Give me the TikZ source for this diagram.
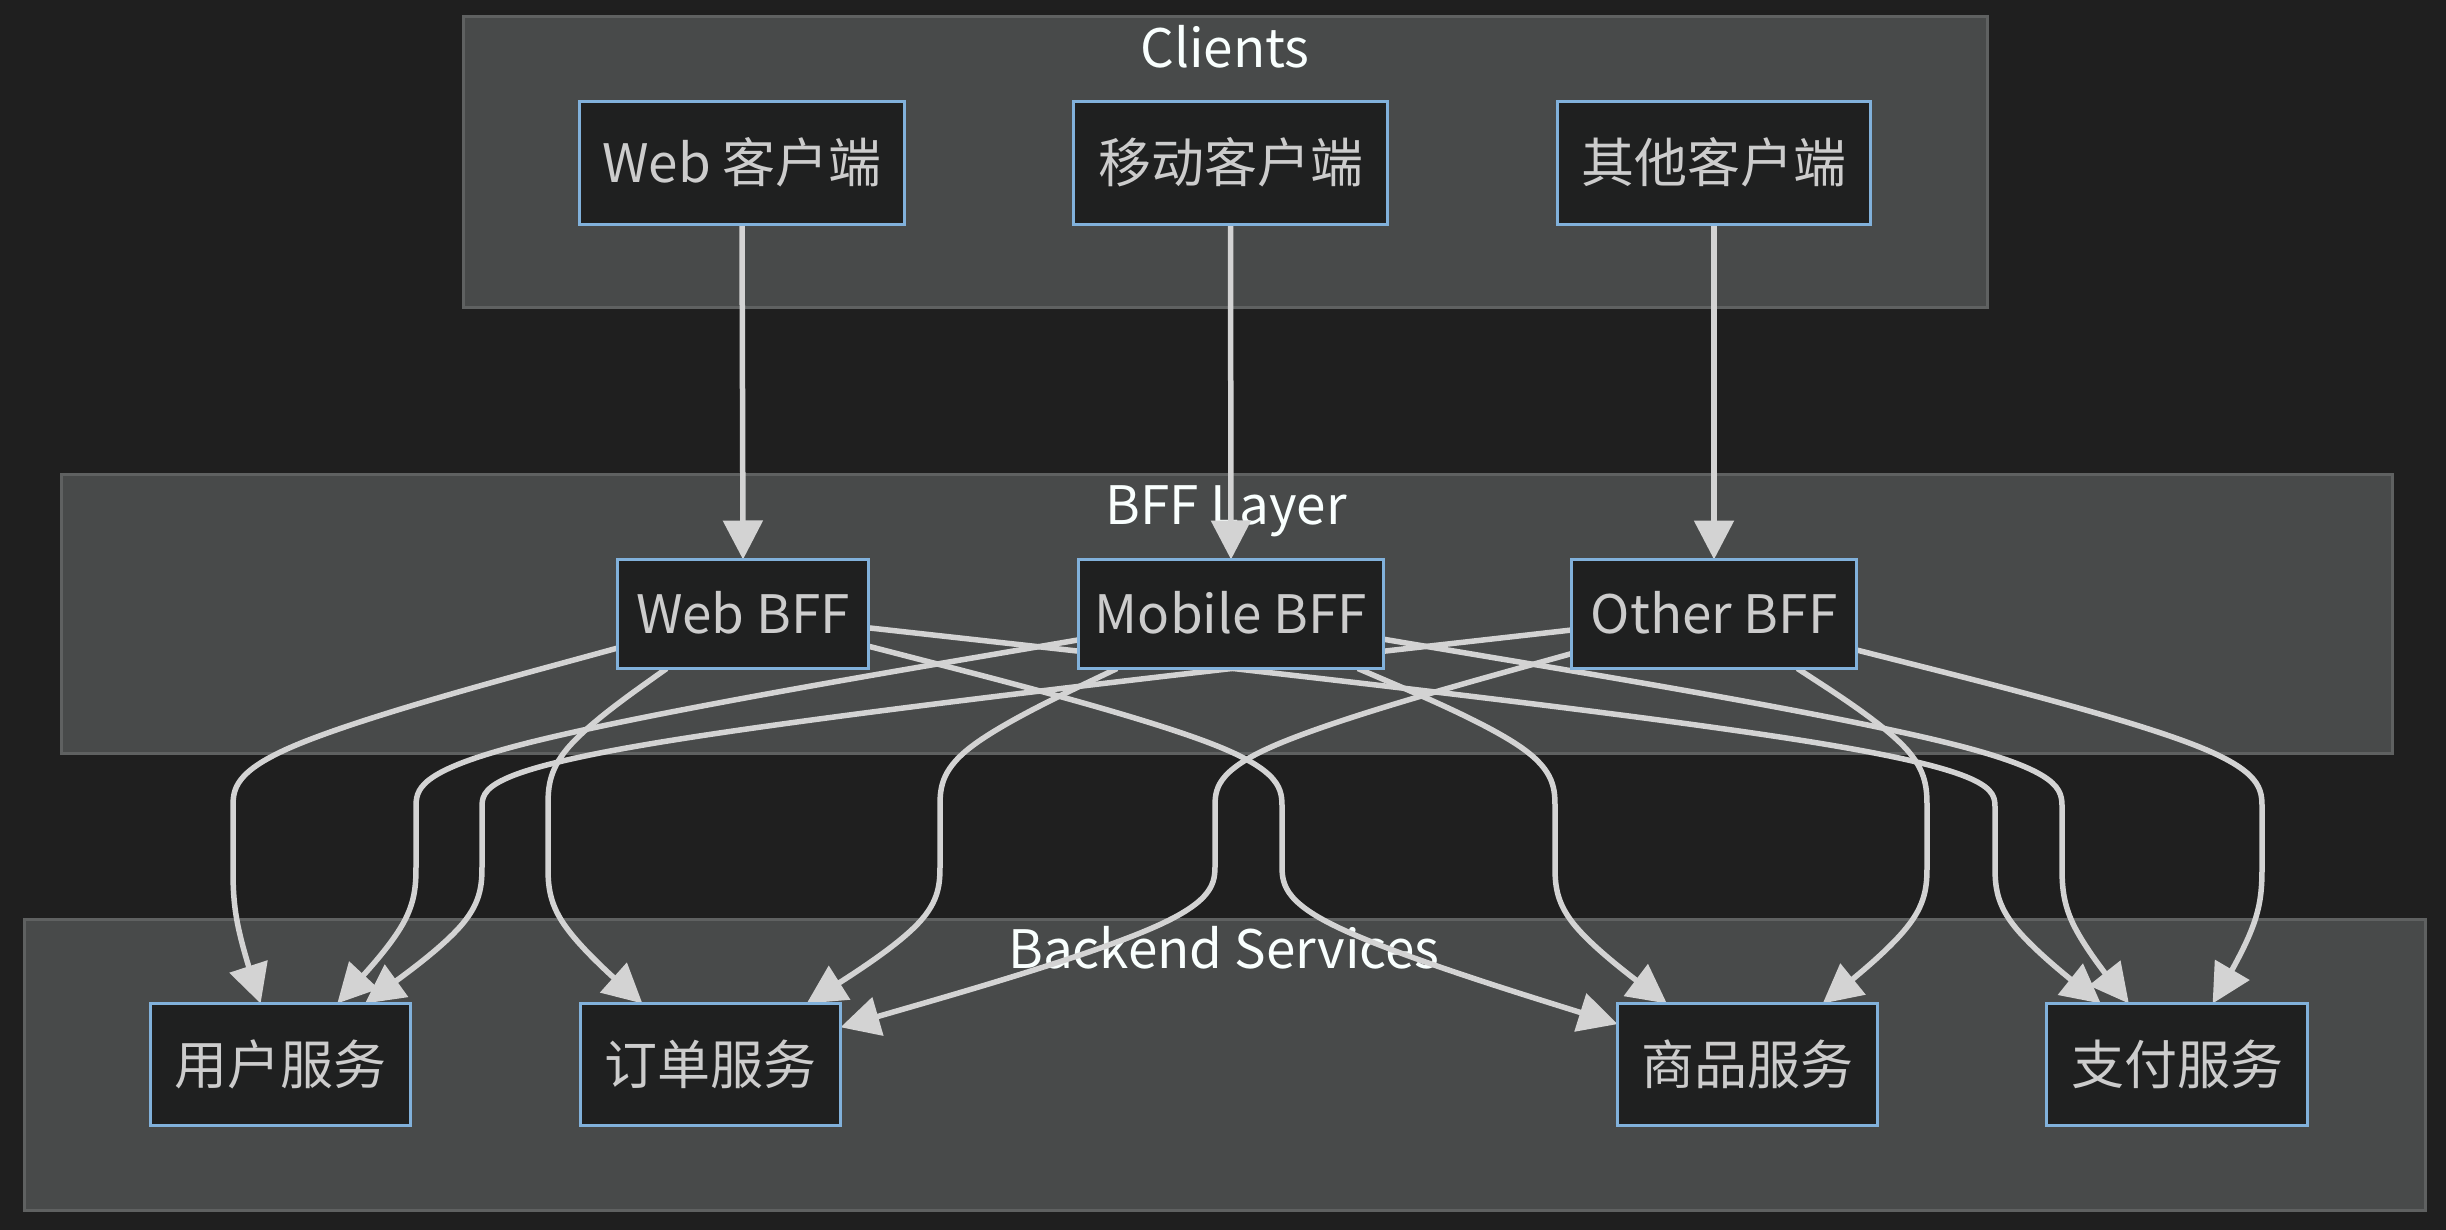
\documentclass[tikz,border=0pt]{standalone}
\usepackage{fontspec}
\setmainfont{Noto Sans CJK SC}
\usetikzlibrary{arrows.meta,calc}
\definecolor{bgc}{HTML}{1F1F1F}
\definecolor{clfill}{HTML}{484A4A}
\definecolor{clline}{HTML}{5F6161}
\definecolor{nfill}{HTML}{1F2020}
\definecolor{nline}{HTML}{81B1DB}
\definecolor{ntext}{HTML}{CCCCCC}
\definecolor{ttext}{HTML}{F9FFFE}
\definecolor{ecol}{HTML}{D3D3D3}
\pgfdeclarelayer{back}
\pgfdeclarelayer{edgelayer}
\pgfsetlayers{back,edgelayer,main}
% basis-spline edge: source, target, x of the vertical run
\newcommand\bfedge[3]{%
  \path (#1) -- (#3,753) coordinate[pos=0] (S);
  \path (#2) -- (#3,919) coordinate[pos=0] (T);
  \draw[edge] (S) -- ($(S)!1/6!(#3,753)$)
    .. controls ($(S)!1/3!(#3,753)$) and ($(S)!2/3!(#3,753)$) .. ($1/6*(S)+4/6*(#3,753)+1/6*(#3,808)$)
    .. controls (#3,771.3) and (#3,789.7) .. (#3,808.2)
    .. controls (#3,826.7) and (#3,845.3) .. (#3,863.8)
    .. controls (#3,882.3) and (#3,900.7) .. ($1/6*(#3,864)+4/6*(#3,919)+1/6*(T)$)
    .. controls ($(#3,919)!1/3!(T)$) and ($(#3,919)!2/3!(T)$) .. ($(#3,919)!5/6!(T)$)
    -- (T);
}
\begin{document}
\begin{tikzpicture}[x=1pt,y=-1pt,
  box/.style={draw=nline, line width=3pt, fill=nfill, text=ntext, inner sep=0pt, outer sep=0pt,
    font=\fontsize{53}{64}\selectfont, text height=39pt, text depth=0pt},
  cluster/.style={draw=clline, line width=3pt, fill=clfill},
  title/.style={text=ttext, inner sep=0pt, anchor=base, font=\fontsize{53}{64}\selectfont},
  edge/.style={draw=ecol, line width=5.5pt, -{Triangle[length=39pt,width=39pt]}}]
\useasboundingbox (0,0) rectangle (2446,1230);
\begin{pgfonlayer}{back}
  \fill[bgc] (0,0) rectangle (2446,1230);
  \draw[cluster] (463,17) rectangle (1987,308);
  \draw[cluster] (61,474) rectangle (2392,753);
  \draw[cluster] (24,919) rectangle (2425,1210);
  \node[title] (tclients) at (1225,68) {Clients};
  \node[title] (tbff) at (1226,524) {BFF Layer};
  \node[title] (tback) at (1224,968) {Backend Services};
\end{pgfonlayer}
% nodes
\node[box, minimum width=325pt, minimum height=123pt] (wc) at (742,163) {Web 客户端};
\node[box, minimum width=314pt, minimum height=123pt] (mc) at (1230.5,163) {移动客户端};
\node[box, minimum width=313pt, minimum height=123pt] (oc) at (1714,163) {其他客户端};
\node[box, minimum width=251pt, minimum height=109pt] (wb) at (743,614) {Web BFF};
\node[box, minimum width=305pt, minimum height=109pt] (mb) at (1231,614) {Mobile BFF};
\node[box, minimum width=285pt, minimum height=109pt] (ob) at (1714,614) {Other BFF};
\node[box, minimum width=260pt, minimum height=122pt] (us) at (280.5,1064.5) {用户服务};
\node[box, minimum width=260pt, minimum height=122pt] (os) at (710.5,1064.5) {订单服务};
\node[box, minimum width=260pt, minimum height=122pt] (ps) at (1747.5,1064.5) {商品服务};
\node[box, minimum width=261pt, minimum height=122pt] (zs) at (2177,1064.5) {支付服务};
\begin{pgfonlayer}{edgelayer}
  \draw[edge] (wc.south) -- (wb.north);
  \draw[edge] (mc.south) -- (mb.north);
  \draw[edge] (oc.south) -- (ob.north);
  \bfedge{wb}{us}{233}
  \bfedge{mb}{us}{416}
  \bfedge{ob}{us}{482}
  \bfedge{wb}{os}{548}
  \bfedge{mb}{os}{940}
  \bfedge{ob}{os}{1215}
  \bfedge{wb}{ps}{1282}
  \bfedge{mb}{ps}{1555}
  \bfedge{ob}{ps}{1927}
  \bfedge{wb}{zs}{1995}
  \bfedge{mb}{zs}{2062}
  \bfedge{ob}{zs}{2262}
\end{pgfonlayer}
\end{tikzpicture}
\end{document}
